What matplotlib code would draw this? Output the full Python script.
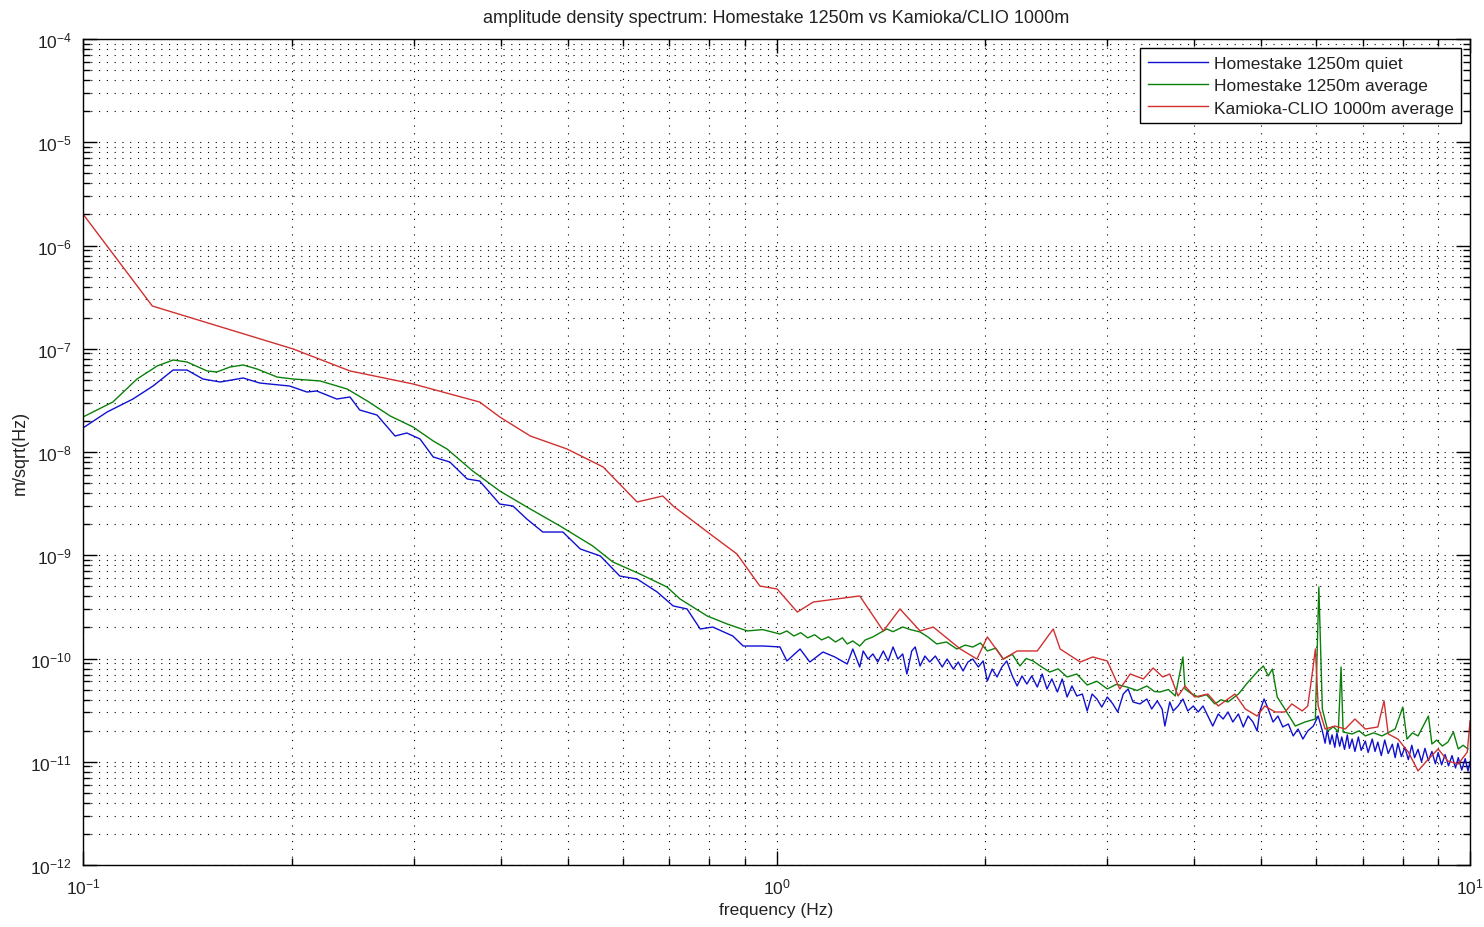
import numpy as np
import matplotlib
matplotlib.use("Agg")
import matplotlib.pyplot as plt
from matplotlib.ticker import LogLocator, NullFormatter

plt.rcParams['font.family'] = ['Liberation Sans', 'DejaVu Sans']

# values, stored as log10(frequency in Hz) and log10(amplitude)
kamioka_logf = [-1.000, -0.900, -0.697, -0.615, -0.524, -0.428, -0.399, -0.355, -0.302, -0.250,
                -0.201, -0.164, -0.149, -0.092, -0.057, -0.024, 0.001, 0.030, 0.053, 0.120,
                0.154, 0.178, 0.207, 0.226, 0.265, 0.289, 0.304, 0.327, 0.347, 0.376,
                0.399, 0.409, 0.438, 0.456, 0.477, 0.495, 0.510, 0.529, 0.543, 0.557,
                0.567, 0.579, 0.589, 0.603, 0.622, 0.637, 0.647, 0.661, 0.676, 0.693,
                0.704, 0.719, 0.733, 0.743, 0.758, 0.766, 0.772, 0.777, 0.781, 0.791,
                0.805, 0.820, 0.834, 0.849, 0.867, 0.876, 0.882, 0.896, 0.911, 0.925,
                0.940, 0.954, 0.968, 0.983, 0.996, 1.000]
kamioka_logA = [-5.695, -6.586, -7.002, -7.215, -7.341, -7.516, -7.661, -7.845, -7.971, -8.145,
                -8.484, -8.426, -8.523, -8.813, -8.988, -9.298, -9.327, -9.550, -9.453, -9.394,
                -9.733, -9.520, -9.733, -9.695, -9.908, -10.005, -9.791, -10.005, -9.927, -9.927,
                -9.714, -9.908, -10.034, -9.985, -10.024, -10.295, -10.150, -10.198, -10.092, -10.179,
                -10.150, -10.363, -10.266, -10.373, -10.344, -10.460, -10.411, -10.344, -10.489, -10.557,
                -10.460, -10.518, -10.518, -10.440, -10.508, -10.460, -10.169, -9.908, -10.460, -10.683,
                -10.654, -10.683, -10.586, -10.683, -10.663, -10.411, -10.731, -10.780, -10.906, -11.089,
                -10.973, -10.876, -10.993, -11.022, -10.906, -10.605]

avg_logf = [-1.000, -0.957, -0.922, -0.893, -0.870, -0.850, -0.821, -0.807, -0.788, -0.769,
            -0.749, -0.720, -0.697, -0.658, -0.619, -0.590, -0.557, -0.524, -0.495, -0.475,
            -0.438, -0.399, -0.355, -0.312, -0.265, -0.236, -0.197, -0.158, -0.139, -0.100,
            -0.071, -0.042, -0.020, 0.005, 0.015, 0.025, 0.035, 0.045, 0.055, 0.065,
            0.075, 0.085, 0.095, 0.102, 0.110, 0.120, 0.128, 0.139, 0.147, 0.159,
            0.168, 0.182, 0.193, 0.207, 0.218, 0.231, 0.245, 0.260, 0.272, 0.283,
            0.294, 0.304, 0.316, 0.327, 0.340, 0.351, 0.360, 0.370, 0.382, 0.394,
            0.406, 0.419, 0.433, 0.448, 0.462, 0.477, 0.490, 0.505, 0.520, 0.534,
            0.545, 0.553, 0.565, 0.575, 0.586, 0.589, 0.598, 0.608, 0.620, 0.632,
            0.641, 0.651, 0.666, 0.680, 0.693, 0.702, 0.709, 0.715, 0.722, 0.733,
            0.748, 0.762, 0.777, 0.782, 0.787, 0.795, 0.803, 0.810, 0.814, 0.817,
            0.830, 0.840, 0.849, 0.861, 0.873, 0.892, 0.903, 0.909, 0.917, 0.925,
            0.940, 0.945, 0.952, 0.960, 0.968, 0.976, 0.983, 0.990, 0.997]
avg_logA = [-7.661, -7.516, -7.293, -7.167, -7.109, -7.128, -7.215, -7.225, -7.177, -7.157,
            -7.196, -7.274, -7.293, -7.312, -7.390, -7.506, -7.651, -7.758, -7.893, -7.971,
            -8.184, -8.378, -8.552, -8.717, -8.910, -9.065, -9.181, -9.307, -9.424, -9.588,
            -9.666, -9.733, -9.720, -9.763, -9.733, -9.782, -9.750, -9.800, -9.770, -9.820,
            -9.790, -9.840, -9.800, -9.859, -9.830, -9.879, -9.820, -9.791, -9.760, -9.714,
            -9.740, -9.695, -9.720, -9.743, -9.790, -9.859, -9.840, -9.908, -9.870, -9.889,
            -9.850, -9.927, -9.900, -10.005, -9.960, -10.072, -10.000, -10.024, -10.080, -10.131,
            -10.100, -10.179, -10.150, -10.257, -10.220, -10.295, -10.250, -10.276, -10.310, -10.266,
            -10.320, -10.324, -10.300, -10.363, -9.985, -10.295, -10.340, -10.373, -10.350, -10.440,
            -10.400, -10.421, -10.344, -10.228, -10.131, -10.072, -10.169, -10.102, -10.373, -10.489,
            -10.654, -10.615, -10.586, -9.307, -10.489, -10.702, -10.660, -10.712, -10.082, -10.712,
            -10.731, -10.700, -10.750, -10.720, -10.750, -10.683, -10.470, -10.780, -10.720, -10.750,
            -10.557, -10.828, -10.790, -10.848, -10.810, -10.712, -10.876, -10.840, -10.876]

quiet_logf = [-1.000, -0.965, -0.928, -0.899, -0.870, -0.850, -0.827, -0.802, -0.769, -0.745,
              -0.702, -0.677, -0.663, -0.634, -0.615, -0.601, -0.576, -0.550, -0.533, -0.514,
              -0.495, -0.471, -0.446, -0.428, -0.399, -0.380, -0.360, -0.337, -0.308, -0.283,
              -0.254, -0.226, -0.201, -0.172, -0.149, -0.129, -0.110, -0.092, -0.063, -0.048,
              -0.019, 0.005, 0.015, 0.034, 0.048, 0.067, 0.084, 0.102, 0.110,
              0.120, 0.125, 0.132, 0.139, 0.146, 0.154, 0.161, 0.168, 0.175, 0.182,
              0.188, 0.195, 0.200, 0.207, 0.214, 0.221, 0.229, 0.239, 0.246, 0.255,
              0.262, 0.269, 0.276, 0.283, 0.291, 0.298, 0.304, 0.311, 0.318, 0.325,
              0.332, 0.340, 0.347, 0.354, 0.361, 0.368, 0.376, 0.383, 0.390, 0.397,
              0.405, 0.412, 0.419, 0.426, 0.433, 0.441, 0.448, 0.455, 0.462, 0.469,
              0.477, 0.485, 0.492, 0.500, 0.507, 0.514, 0.524, 0.534, 0.541, 0.549,
              0.556, 0.560, 0.567, 0.572, 0.579, 0.586, 0.593, 0.601, 0.608, 0.615,
              0.622, 0.629, 0.637, 0.644, 0.651, 0.658, 0.666, 0.673, 0.680, 0.687,
              0.693, 0.697, 0.703, 0.709, 0.716, 0.723, 0.730, 0.738, 0.745, 0.752,
              0.759, 0.766, 0.774, 0.781, 0.787, 0.791, 0.794, 0.798, 0.801, 0.805,
              0.808, 0.812, 0.815, 0.819, 0.823, 0.826, 0.830, 0.834, 0.839, 0.843,
              0.849, 0.853, 0.859, 0.863, 0.867, 0.872, 0.877, 0.882, 0.888, 0.892,
              0.896, 0.901, 0.906, 0.911, 0.916, 0.920, 0.925, 0.930, 0.935, 0.940,
              0.945, 0.950, 0.954, 0.959, 0.964, 0.969, 0.974, 0.979, 0.983, 0.988,
              0.993, 0.997, 1.000]
quiet_logA = [-7.767, -7.612, -7.487, -7.361, -7.206, -7.206, -7.293, -7.322, -7.283, -7.332,
              -7.361, -7.419, -7.409, -7.487, -7.467, -7.593, -7.642, -7.845, -7.816, -7.874,
              -8.048, -8.097, -8.261, -8.281, -8.504, -8.523, -8.649, -8.775, -8.775, -8.939,
              -9.007, -9.201, -9.230, -9.356, -9.491, -9.520, -9.714, -9.695, -9.782, -9.879,
              -9.879, -9.888, -10.024, -9.908, -10.034, -9.937, -9.985, -10.053, -9.908,
              -10.082, -9.927, -10.005, -9.956, -10.034, -9.927, -10.024, -9.888, -10.005, -9.956,
              -10.150, -9.927, -9.888, -10.072, -9.976, -10.034, -9.976, -10.082, -10.005, -10.102,
              -10.034, -10.121, -10.034, -10.005, -10.082, -10.024, -10.218, -10.102, -10.179, -10.082,
              -10.024, -10.169, -10.266, -10.169, -10.247, -10.169, -10.276, -10.150, -10.295, -10.198,
              -10.324, -10.198, -10.373, -10.266, -10.363, -10.344, -10.508, -10.344, -10.392, -10.470,
              -10.373, -10.440, -10.518, -10.344, -10.295, -10.421, -10.440, -10.392, -10.489, -10.411,
              -10.489, -10.654, -10.421, -10.508, -10.460, -10.392, -10.508, -10.460, -10.518, -10.460,
              -10.557, -10.654, -10.537, -10.586, -10.518, -10.615, -10.537, -10.663, -10.557, -10.615,
              -10.702, -10.508, -10.392, -10.489, -10.615, -10.557, -10.663, -10.634, -10.750, -10.683,
              -10.780, -10.702, -10.654, -10.557, -10.700, -10.820, -10.690, -10.830, -10.740, -10.860,
              -10.720, -10.850, -10.760, -10.880, -10.740, -10.870, -10.780, -10.900, -10.760, -10.890,
              -10.800, -10.910, -10.780, -10.900, -10.810, -10.940, -10.790, -10.920, -10.830, -10.960,
              -10.820, -10.950, -10.860, -10.980, -10.840, -10.960, -10.880, -11.000, -10.870, -10.990,
              -10.900, -11.020, -10.910, -11.030, -10.930, -11.040, -10.940, -11.060, -10.960, -11.080,
              -10.970, -11.090, -11.000]

x_exponents = [-1, 0, 1]
y_exponents = [-12, -11, -10, -9, -8, -7, -6, -5, -4]

series = [
    ("Homestake 1250m quiet", quiet_logf, quiet_logA, "#1010d0"),
    ("Homestake 1250m average", avg_logf, avg_logA, "#0a800a"),
    ("Kamioka-CLIO 1000m average", kamioka_logf, kamioka_logA, "#d03030"),
]

fig = plt.figure(figsize=(14.84, 9.28), dpi=100)
ax = fig.add_axes([0.0559, 0.0668, 0.9347, 0.8901])

for label, lf, la, col in series:
    ax.plot(10 ** np.array(lf), 10 ** np.array(la), color=col, lw=1.0, label=label)

ax.set_xscale("log")
ax.set_yscale("log")
ax.set_xlim(0.1, 10)
ax.set_ylim(1e-12, 1e-4)

# explicit decade ticks, labels in the text font like MATLAB
ax.set_xticks([10.0 ** e for e in x_exponents])
ax.set_xticklabels([r"$\mathdefault{10^{%d}}$" % e for e in x_exponents])
ax.set_yticks([10.0 ** e for e in y_exponents])
ax.set_yticklabels([r"$\mathdefault{10^{%d}}$" % e for e in y_exponents])
ax.yaxis.set_minor_locator(LogLocator(base=10, subs=np.arange(2, 10), numticks=20))
ax.xaxis.set_minor_locator(LogLocator(base=10, subs=np.arange(2, 10), numticks=20))
ax.xaxis.set_minor_formatter(NullFormatter())
ax.yaxis.set_minor_formatter(NullFormatter())

ax.grid(True, which="both", color="black", linestyle=(0, (1, 6)), linewidth=0.8)
ax.tick_params(which="both", direction="in", top=True, right=True, labelsize=12.5, width=1.0,
               labelcolor="#222222")
ax.tick_params(which="major", length=10, pad=8)
ax.tick_params(which="minor", length=5)
for s in ax.spines.values():
    s.set_linewidth(1.0)

ax.set_title("amplitude density spectrum: Homestake 1250m vs Kamioka/CLIO 1000m", fontsize=13,
             pad=12, color="#222222")
ax.set_xlabel("frequency (Hz)", fontsize=12.5, labelpad=4, color="#222222")
ax.set_ylabel("m/sqrt(Hz)", fontsize=13, labelpad=1, color="#222222")

leg = ax.legend(loc="upper right", fontsize=12.5, fancybox=False, framealpha=1, edgecolor="black",
                handlelength=3.5, handletextpad=0.3, borderaxespad=0.5, labelspacing=0.42,
                borderpad=0.45)
leg.get_frame().set_linewidth(1.0)
for t in leg.get_texts():
    t.set_color("#222222")

fig.savefig("out.png", dpi=100)
